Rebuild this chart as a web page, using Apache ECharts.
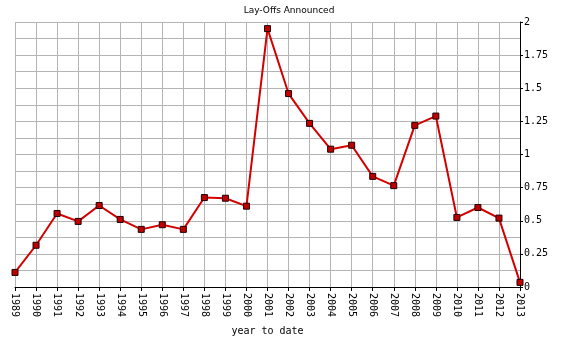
<!DOCTYPE html>
<html>
<head>
<meta charset="utf-8">
<script src="https://cdn.jsdelivr.net/npm/echarts@6/dist/echarts.min.js"></script>
<style>
  html, body { margin: 0; padding: 0; background: #fff; }
  #main { width: 561px; height: 341px; }
</style>
</head>
<body>
<div id="main"></div>
<script>
// years on the x axis
var years = ["1989","1990","1991","1992","1993","1994","1995","1996","1997","1998","1999","2000",
  "2001","2002","2003","2004","2005","2006","2007","2008","2009","2010","2011","2012","2013"];
// lay-offs announced, millions
var layoffs = [0.11, 0.315, 0.555, 0.495, 0.615, 0.51, 0.435, 0.47, 0.435, 0.675, 0.67, 0.61,
  1.95, 1.46, 1.235, 1.04, 1.07, 0.835, 0.765, 1.22, 1.29, 0.525, 0.60, 0.52, 0.035];

var chart = echarts.init(document.getElementById('main'));
var txtFont = 'DejaVu Sans Mono';

chart.setOption({
  animation: false,
  title: {
    text: 'Lay-Offs Announced',
    left: 284, top: 1, textAlign: 'center',
    textStyle: { fontSize: 9, fontWeight: 'normal', color: '#000', fontFamily: 'DejaVu Sans' }
  },
  grid: { left: 15, right: 41, top: 22, bottom: 54, outerBoundsMode: 'none', containLabel: false },
  xAxis: {
    type: 'category',
    data: years,
    boundaryGap: false,
    name: 'year to date',
    nameLocation: 'middle',
    nameGap: 39,
    nameTextStyle: { fontSize: 10, color: '#000', fontFamily: txtFont },
    axisLine: { lineStyle: { color: '#000', width: 1 } },
    axisTick: { show: true, length: 4, alignWithLabel: true, lineStyle: { color: '#000' } },
    axisLabel: { rotate: -90, fontSize: 10, color: '#000', fontFamily: txtFont, margin: 6, interval: 0 },
    splitLine: { show: true, interval: 0, lineStyle: { color: '#b4b4b4', width: 1 } }
  },
  yAxis: {
    type: 'value',
    position: 'right',
    min: 0, max: 2, interval: 0.25,
    name: 'millions',
    nameLocation: 'middle',
    nameGap: 28,
    nameRotate: -90,
    nameTextStyle: { fontSize: 9, color: '#000', fontFamily: 'DejaVu Sans' },
    axisLine: { show: true, lineStyle: { color: '#000', width: 1 } },
    axisTick: { show: true, length: 3, lineStyle: { color: '#000' } },
    axisLabel: { fontSize: 10, color: '#000', fontFamily: txtFont, margin: 4 },
    splitLine: { show: true, lineStyle: { color: '#b4b4b4', width: 1 } },
    minorTick: { show: false, splitNumber: 2 },
    minorSplitLine: { show: true, lineStyle: { color: '#b4b4b4', width: 1 } }
  },
  series: [{
    type: 'line',
    data: layoffs,
    symbol: 'rect',
    symbolSize: 6,
    lineStyle: { color: '#d40000', width: 2 },
    itemStyle: { color: '#c00000', borderColor: '#200000', borderWidth: 1 }
  }]
});
</script>
</body>
</html>
